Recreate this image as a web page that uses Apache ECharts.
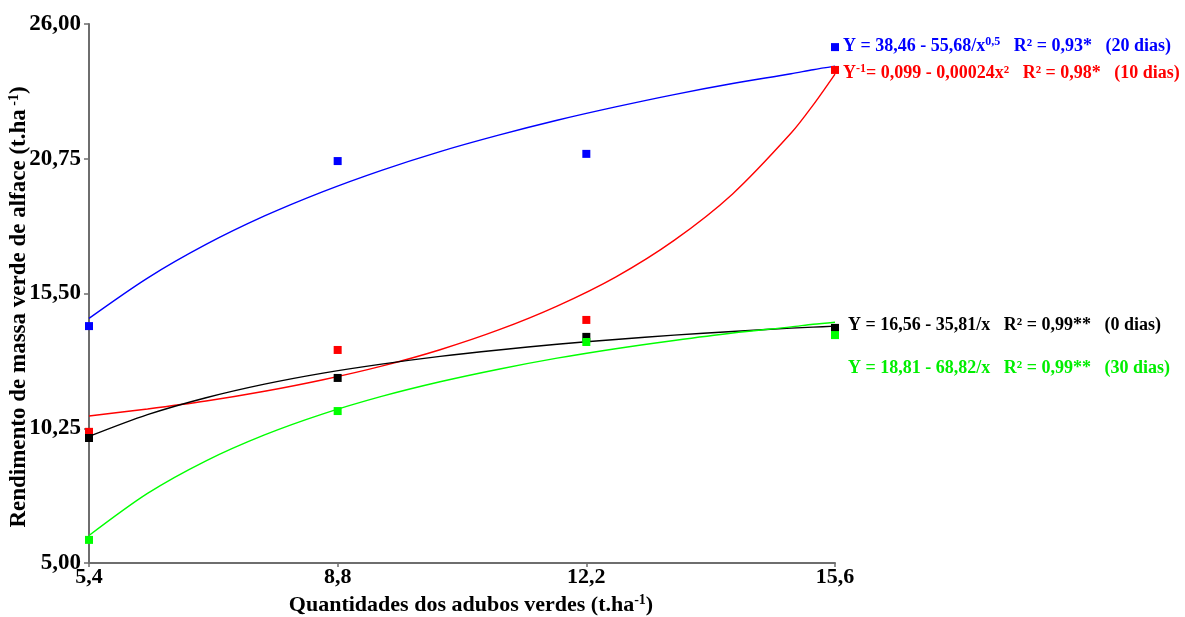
<!DOCTYPE html>
<html>
<head>
<meta charset="utf-8">
<script src="https://cdn.jsdelivr.net/npm/echarts@6/dist/echarts.min.js"></script>
<style>html,body{margin:0;padding:0;background:#fff}#c{width:1185px;height:617px}</style>
</head>
<body>
<div id="c"></div>
<script>
// Observed doses (t.ha-1)
const doses = [5.4, 8.8, 12.2, 15.6];
const obs0dias  = [9.87, 12.21, 13.81, 14.16];
const obs10dias = [10.11, 13.30, 14.47, 24.21];
const obs20dias = [14.23, 20.66, 20.94, 25.10];
const obs30dias = [5.90, 10.92, 13.61, 13.88];

// Fitted curves
const curveX     = [5.4, 6.2, 7.0, 7.8, 8.6, 9.4, 10.2, 11.0, 11.8, 12.6, 13.4, 14.2, 15.0, 15.3, 15.6];
const curve0dias  = [9.93, 10.78, 11.44, 11.97, 12.40, 12.75, 13.05, 13.30, 13.52, 13.71, 13.88, 14.02, 14.15, 14.19, 14.23];
const curve10dias = [10.73, 11.00, 11.31, 11.69, 12.14, 12.67, 13.31, 14.08, 15.01, 16.14, 17.57, 19.38, 21.75, 22.84, 24.05];
const curve20dias = [14.53, 16.10, 17.41, 18.52, 19.47, 20.30, 21.03, 21.67, 22.25, 22.77, 23.25, 23.68, 24.06, 24.22, 24.36];
const curve30dias = [6.07, 7.71, 8.98, 9.99, 10.81, 11.49, 12.06, 12.55, 12.98, 13.35, 13.67, 13.96, 14.20, 14.30, 14.38];

// Tick labels
const xTicks = [5.4, 8.8, 12.2, 15.6];
const yTicks = [5.00, 10.25, 15.50, 20.75, 26.00];

const pair = (xs, ys) => xs.map((x, i) => [x, ys[i]]);
const comma = (v, d) => v.toFixed(d).replace('.', ',');
const FONT = '"Liberation Serif", "DejaVu Serif", serif';

const C = {blue: '#0000ff', red: '#ff0000', black: '#000000', green: '#00ff00'};

function curve(data, color) {
  return {type: 'line', data, smooth: 0.3, showSymbol: false, symbol: 'none',
    lineStyle: {color, width: 1.4}, z: 2, silent: true};
}
function pts(data, color) {
  return {type: 'scatter', data, symbol: 'rect', symbolSize: 8,
    itemStyle: {color, opacity: 1}, z: 5, silent: true};
}
function eqRich(color) {
  return {
    a: {fontFamily: FONT, fontSize: 18, fontWeight: 'bold', fill: color},
    s: {fontFamily: FONT, fontSize: 12, fontWeight: 'bold', fill: color, verticalAlign: 'bottom', padding: [0, 0, 8, 0]}
  };
}
function titleRich(size) {
  return {
    t: {fontFamily: FONT, fontWeight: 'bold', fontSize: size, fill: '#000'},
    s: {fontFamily: FONT, fontWeight: 'bold', fontSize: 14, fill: '#000', verticalAlign: 'bottom', padding: [0, 0, 10, 0]}
  };
}

const chart = echarts.init(document.getElementById('c'));
chart.setOption({
  animation: false,
  backgroundColor: '#ffffff',
  grid: {left: 89, right: 350, top: 24, bottom: 54, containLabel: false, outerBoundsMode: 'none'},
  xAxis: {
    type: 'value', min: 5.4, max: 15.6,
    axisLine: {onZero: false, lineStyle: {color: '#6e6e6e', width: 2}},
    axisTick: {show: true, length: 4, lineStyle: {color: '#6e6e6e', width: 1.5}, customValues: xTicks},
    axisLabel: {customValues: xTicks, formatter: v => comma(v, 1), fontFamily: FONT, fontWeight: 'bold', fontSize: 22, color: '#000', margin: 3},
    splitLine: {show: false}
  },
  yAxis: {
    type: 'value', min: 5, max: 26,
    axisLine: {onZero: false, lineStyle: {color: '#6e6e6e', width: 2}},
    axisTick: {show: true, length: 5, lineStyle: {color: '#6e6e6e', width: 1.5}, customValues: yTicks},
    axisLabel: {customValues: yTicks, formatter: v => comma(v, 2), fontFamily: FONT, fontWeight: 'bold', fontSize: 23, color: '#000', margin: 8},
    splitLine: {show: false}
  },
  series: [
    curve(pair(curveX, curve20dias), C.blue),
    curve(pair(curveX, curve10dias), C.red),
    curve(pair(curveX, curve0dias), C.black),
    curve(pair(curveX, curve30dias), C.green),
    pts(pair(doses, obs20dias), C.blue),
    pts(pair(doses, obs10dias), C.red),
    pts(pair(doses, obs0dias), C.black),
    pts(pair(doses, obs30dias), C.green)
  ],
  graphic: [
    {type: 'text', x: 471, y: 605, style: {
      text: '{t|Quantidades dos adubos verdes (t.ha}{s|-1}{t|)}', rich: titleRich(22),
      align: 'center', verticalAlign: 'middle'}},
    {type: 'text', x: 19, y: 307, rotation: Math.PI / 2, style: {
      text: '{t|Rendimento de massa verde de alface (t.ha}{s| -1}{t|)}', rich: titleRich(23),
      align: 'center', verticalAlign: 'middle'}},
    {type: 'text', left: 843, top: 36, style: {
      text: '{a|Y = 38,46 - 55,68/x}{s|0,5}{a|   R² = 0,93*   (20 dias)}', rich: eqRich(C.blue)}},
    {type: 'text', left: 843, top: 63, style: {
      text: '{a|Y}{s|-1}{a|= 0,099 - 0,00024x²   R² = 0,98*   (10 dias)}', rich: eqRich(C.red)}},
    {type: 'text', left: 848, top: 316, style: {
      text: '{a|Y = 16,56 - 35,81/x   R² = 0,99**   (0 dias)}', rich: eqRich(C.black)}},
    {type: 'text', left: 848, top: 359, style: {
      text: '{a|Y = 18,81 - 68,82/x   R² = 0,99**   (30 dias)}', rich: eqRich('#00ee00')}}
  ]
});
</script>
</body>
</html>
